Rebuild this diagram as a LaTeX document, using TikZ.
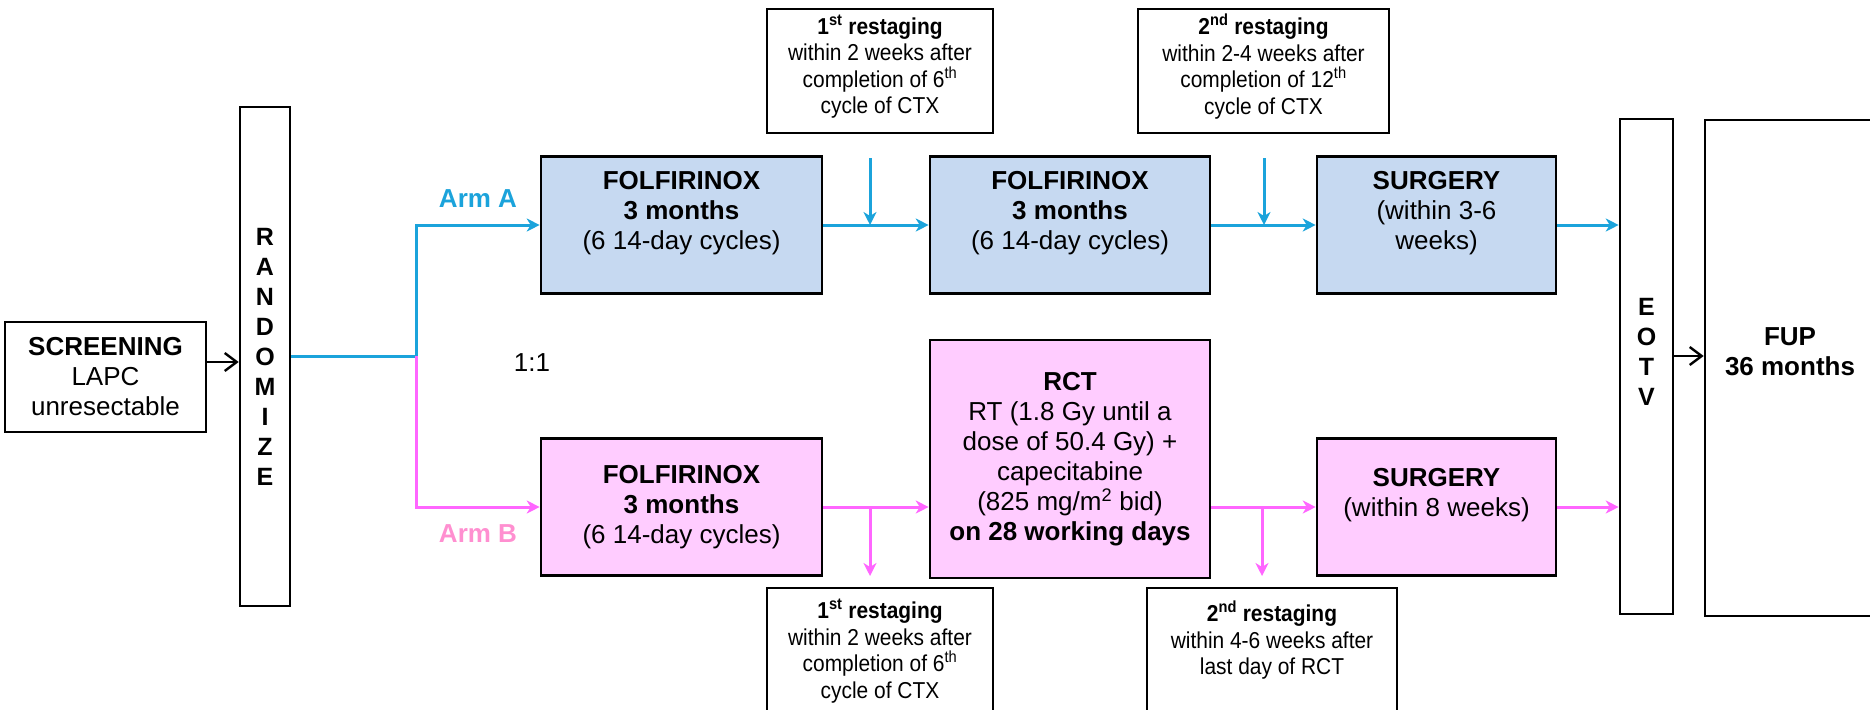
\documentclass[tikz,border=0pt]{standalone}
\usepackage{fontspec}
\setmainfont{Liberation Sans}
\newfontfamily\narrowfont[FakeStretch=0.91]{Liberation Sans}
\usetikzlibrary{arrows.meta}
\definecolor{armblue}{HTML}{1BA3DB}
\definecolor{armpink}{HTML}{FF66FF}
\definecolor{armpinktxt}{HTML}{FF8FD0}
\definecolor{fillblue}{HTML}{C6D9F1}
\definecolor{fillpink}{HTML}{FFCCFF}
\newcommand\mainfs{\fontsize{26}{30}\selectfont}
\newcommand\restfs{\narrowfont\fontsize{23}{26.5}\selectfont}
\begin{document}
\begin{tikzpicture}[x=1pt,y=-1pt,
  box/.style={draw=black, line width=2.6pt, inner sep=0pt, align=center, font=\mainfs},
  abox/.style={box, fill=fillblue},
  bbox/.style={box, fill=fillpink},
  rbox/.style={draw=black, line width=2.4pt, inner sep=0pt},
  rtxt/.style={inner sep=0pt, align=center, font=\restfs},
  vtxt/.style={inner sep=0pt, align=center, font=\bfseries\fontsize{25}{30}\selectfont},
  barr/.style={draw=armblue, line width=3pt, -{Stealth[length=13pt,width=13pt,inset=4pt]}},
  parr/.style={draw=armpink, line width=3pt, -{Stealth[length=13pt,width=13pt,inset=4pt]}},
  karr/.style={draw=black, line width=2.4pt, -{Straight Barb[length=12pt,width=18pt]}}]
\useasboundingbox (0,0) rectangle (1870,709);

% left part
\node[box, minimum width=201pt, minimum height=110pt] (scr) at (105.5,377)
  {\textbf{SCREENING}\\LAPC\\unresectable};
\node[box, minimum width=50pt, minimum height=499pt] (rand) at (265,356.5) {};
\node[vtxt] (randt) at (rand.center) {R\\A\\N\\D\\O\\M\\I\\Z\\E};

% arm A
\node[abox, minimum width=281pt, minimum height=137pt] (a1) at (681.5,225)
  {\textbf{FOLFIRINOX}\\\textbf{3 months}\\(6 14-day cycles)\\\mbox{}};
\node[abox, minimum width=280pt, minimum height=137pt] (a2) at (1070,225)
  {\textbf{FOLFIRINOX}\\\textbf{3 months}\\(6 14-day cycles)\\\mbox{}};
\node[abox, minimum width=239pt, minimum height=137pt] (sa) at (1436.5,225)
  {\textbf{SURGERY}\\(within 3-6\\weeks)\\\mbox{}};

% arm B
\node[bbox, minimum width=281pt, minimum height=137pt] (b1) at (681.5,507)
  {\textbf{FOLFIRINOX}\\\textbf{3 months}\\(6 14-day cycles)};
\node[bbox, minimum width=280pt, minimum height=238pt] (rct) at (1070,459)
  {\textbf{RCT}\\RT (1.8 Gy until a\\dose of 50.4 Gy) +\\capecitabine\\(825 mg/m\textsuperscript{2} bid)\\\textbf{on 28 working days}};
\node[bbox, minimum width=239pt, minimum height=137pt] (sb) at (1436.5,507)
  {\textbf{SURGERY}\\(within 8 weeks)\\\mbox{}};

% right part
\node[box, minimum width=53pt, minimum height=495pt] (eotv) at (1646.5,366.5) {};
\node[vtxt] (eotvt) at (1646.5,352) {E\\O\\T\\V};
\node[box, minimum width=205pt, minimum height=496pt] (fup) at (1807.5,368) {};
\node[inner sep=0pt, align=center, font=\bfseries\mainfs] (fupt) at (1790,352) {FUP\\36 months};

% restaging boxes
\node[rbox, minimum width=226pt, minimum height=124pt] (rt1) at (880,71) {};
\node[rtxt] (rt1t) at ([yshift=4.5pt]rt1.center)
  {\textbf{1\textsuperscript{st} restaging}\\within 2 weeks after\\completion of 6\textsuperscript{th}\\cycle of CTX};
\node[rbox, minimum width=251pt, minimum height=124pt] (rt2) at (1263.5,71) {};
\node[rtxt] (rt2t) at ([yshift=4.5pt]rt2.center)
  {\textbf{2\textsuperscript{nd} restaging}\\within 2-4 weeks after\\completion of 12\textsuperscript{th}\\cycle of CTX};
\node[rbox, minimum width=226pt, minimum height=150pt, anchor=north] (rb1) at (880,587) {};
\node[rtxt] (rb1t) at ([yshift=-64pt]rb1.north)
  {\textbf{1\textsuperscript{st} restaging}\\within 2 weeks after\\completion of 6\textsuperscript{th}\\cycle of CTX};
\node[rbox, minimum width=250pt, minimum height=150pt, anchor=north] (rb2) at (1272,587) {};
\node[rtxt] (rb2t) at ([yshift=-64pt]rb2.north)
  {\textbf{2\textsuperscript{nd} restaging}\\within 4-6 weeks after\\last day of RCT\\\mbox{}};

% labels
\node[text=armblue, font=\bfseries\mainfs, inner sep=0pt] (armA) at (478,199) {Arm A};
\node[text=armpinktxt, font=\bfseries\mainfs, inner sep=0pt] (armB) at (478,534) {Arm B};
\node[font=\mainfs, inner sep=0pt] (ratio) at (532,363) {1:1};

% connectors
\coordinate (split) at (416,356);
\coordinate (sy) at (0,362);
\coordinate (fy) at (0,356);
\draw[karr] (scr.east |- sy) -- (rand.west |- sy);
\draw[armblue, line width=3pt] (rand.east |- split) -- (split);
\draw[barr] (split) |- (a1);
\draw[parr] (split) |- (b1);

\draw[barr] (a1) -- (a2);
\draw[barr] (a2) -- (sa);
\draw[barr] (sa.east) -- (sa.east -| eotv.west);
\coordinate (d1) at (870,158);
\coordinate (d2) at (1264,158);
\draw[barr] (d1) -- (d1 |- a1.east);
\draw[barr] (d2) -- (d2 |- a2.east);

\draw[parr] (b1.east) -- (b1.east -| rct.west);
\draw[parr] (b1.east -| rct.east) -- (b1.east -| sb.west);
\draw[parr] (sb.east) -- (sb.east -| eotv.west);
\coordinate (u1) at (870,576);
\coordinate (u2) at (1262,576);
\draw[parr] (u1 |- b1.east) -- (u1);
\draw[parr] (u2 |- b1.east) -- (u2);

\draw[karr] (eotv.east |- fy) -- (fup.west |- fy);
\end{tikzpicture}
\end{document}
